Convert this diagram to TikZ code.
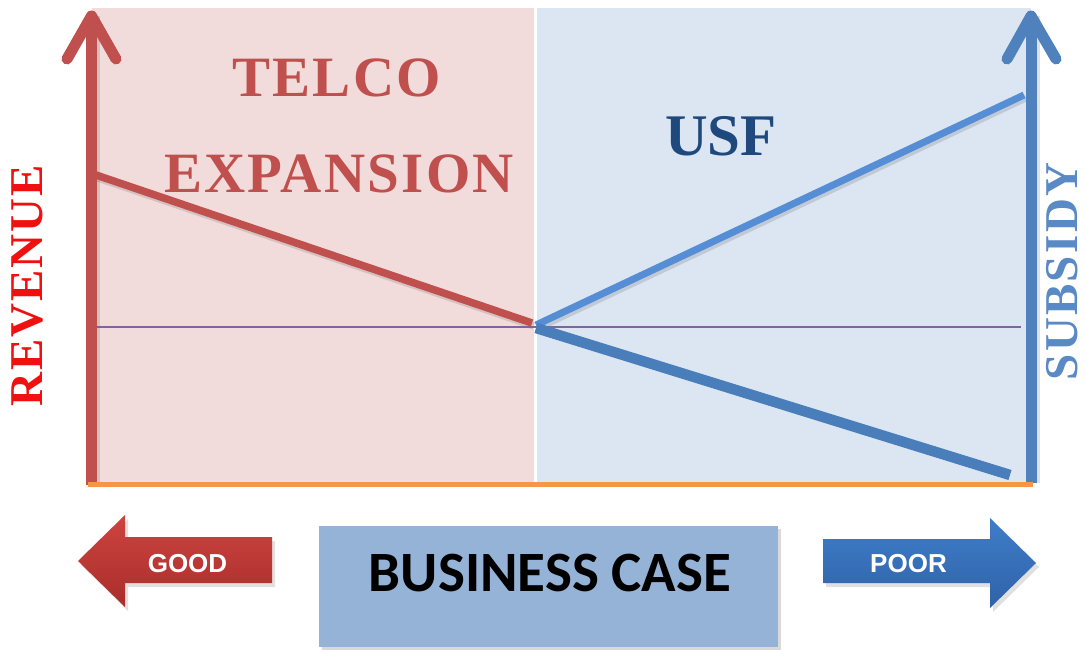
\documentclass[tikz,border=0pt]{standalone}
\usepackage{fontspec}
\setmainfont{Liberation Serif}
\newfontfamily\serifsp[LetterSpace=4]{Liberation Serif}
\newfontfamily\serifspb[LetterSpace=5]{Liberation Serif}
\newfontfamily\calib{Carlito}
\newfontfamily\arialf{Liberation Sans}
\definecolor{pinkbg}{HTML}{F2DCDB}
\definecolor{bluebg}{HTML}{DCE6F2}
\definecolor{axred}{HTML}{C0504D}
\definecolor{axblue}{HTML}{4F81BD}
\definecolor{lineblueA}{HTML}{558ED5}
\definecolor{lineblueB}{HTML}{4A7EBB}
\definecolor{orangeC}{HTML}{F79646}
\definecolor{purp}{HTML}{8064A2}
\definecolor{boxblue}{HTML}{95B3D7}
\definecolor{usfblue}{HTML}{1F497D}
\definecolor{subblue}{HTML}{5A8AC6}
\definecolor{revred}{HTML}{F01010}
\definecolor{goodtop}{HTML}{CD4440}
\definecolor{goodbot}{HTML}{A92D2B}
\definecolor{poortop}{HTML}{3F7DC9}
\definecolor{poorbot}{HTML}{2F62A8}
\begin{document}
\begin{tikzpicture}[x=1pt,y=-1pt,
  lbl/.style={inner sep=0pt,outer sep=0pt},
  shadowln/.style={draw=black,opacity=0.12},
  axisln/.style={line width=11pt},
  chevron/.style={line width=11pt,line cap=round,line join=round},
  titlefont/.style={font=\bfseries\fontsize{57}{60}\selectfont}]
\useasboundingbox (0,0) rectangle (1086,650);
\fill[white] (0,0) rectangle (1086,650);
% regions
\fill[pinkbg] (92,8) rectangle (534,483);
\fill[bluebg] (537,8) rectangle (1031,483);
% coordinates
\coordinate (pl) at (96,327);
\coordinate (pr) at (1021,327);
\coordinate (r1) at (96,175);
\coordinate (r2) at (532,323);
\coordinate (b0) at (536,325);
\coordinate (b1) at (1024,95);
\coordinate (c0) at (536,328);
\coordinate (c2) at (1010,475);
\coordinate (raB) at (91.5,485);
\coordinate (raT) at (91.5,16);
\coordinate (raL) at (67,59);
\coordinate (raR) at (116,59);
\coordinate (baB) at (1031,483);
\coordinate (baT) at (1031,16);
\coordinate (baL) at (1007,59);
\coordinate (baR) at (1056,59);
\coordinate (oL) at (88,484);
\coordinate (oR) at (1033,484);
% shadows of lines
\draw[shadowln,line width=7.5pt] ([shift={(2,3)}]r1) -- ([shift={(2,3)}]r2);
\draw[shadowln,line width=7pt] ([shift={(2,3)}]b0) -- ([shift={(2,3)}]b1);
\draw[shadowln,line width=3pt] ([shift={(7,0)}]raB) -- ([shift={(7,0)}]raT);
\draw[shadowln,line width=3pt] ([shift={(7,0)}]baB) -- ([shift={(7,0)}]baT);
% purple reference line
\draw[purp,line width=1.5pt] (pl) -- (pr);
% data lines
\draw[axred,line width=7.5pt] (r1) -- (r2);
\draw[lineblueA,line width=7pt] (b0) -- (b1);
\draw[lineblueB,line width=10.5pt] (c0) -- (c2);
% axes
\draw[axred,axisln] (raB) -- (raT);
\draw[axred,chevron] (raL) -- (raT) -- (raR);
\draw[axblue,axisln] (baB) -- (baT);
\draw[axblue,chevron] (baL) -- (baT) -- (baR);
\draw[orangeC,line width=5pt] (oL) -- (oR);
% titles
\node[lbl,titlefont,text=axred] (telco) at (336.5,78) {\serifsp TELCO};
\node[lbl,titlefont,text=axred] (expansion) at (339,174) {\serifsp EXPANSION};
\node[lbl,font=\bfseries\fontsize{59}{62}\selectfont,text=usfblue] (usf) at (721,136.5) {USF};
\node[lbl,rotate=90,font=\bfseries\fontsize{47}{50}\selectfont,text=revred] (revenue) at (27.5,286) {\serifsp REVENUE};
\node[lbl,rotate=90,font=\bfseries\fontsize{47}{50}\selectfont,text=subblue] (subsidy) at (1062,271.5) {\serifspb SUBSIDY};
% business case box
\fill[black,opacity=0.15] (322,529) rectangle (781,650);
\node[fill=boxblue,minimum width=459pt,minimum height=121pt,inner sep=0pt] (box) at (548.5,586.5) {};
\node[lbl,font=\calib\bfseries\fontsize{57}{60}\selectfont] (bc) at (550,573.5) {BUSINESS CASE};
% GOOD arrow
\fill[black,opacity=0.12] (275,541) -- (128,541) -- (128,519) -- (81,565) -- (128,611) -- (128,587) -- (275,587) -- cycle;
\shade[top color=goodtop,bottom color=goodbot] (272,537) -- (125,537) -- (125,515) -- (78,561) -- (125,607) -- (125,583) -- (272,583) -- cycle;
\node[lbl,font=\arialf\bfseries\fontsize{26}{28}\selectfont,text=white] (good) at (187.5,564) {GOOD};
% POOR arrow
\fill[black,opacity=0.12] (826,543) -- (993,543) -- (993,522) -- (1039,567) -- (993,612) -- (993,587) -- (826,587) -- cycle;
\shade[top color=poortop,bottom color=poorbot] (823,539) -- (990,539) -- (990,518) -- (1036,563) -- (990,608) -- (990,583) -- (823,583) -- cycle;
\node[lbl,font=\arialf\bfseries\fontsize{26}{28}\selectfont,text=white] (poor) at (908.5,563.5) {POOR};
\end{tikzpicture}
\end{document}
